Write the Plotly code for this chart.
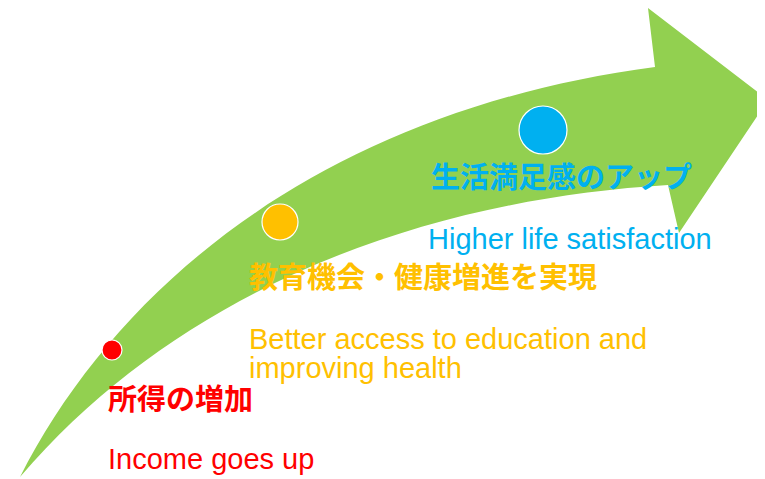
import plotly.graph_objects as go

# canvas (drawn in pixel-like units, y grows downward)
W, H = 765, 479
PAGE_OFFSET = 8  # default body margin of the html page

# arrow outline: tail point, upper edge bezier, head, lower edge bezier
arrow_tail = (20, 477)
upper_ctrl = [(120, 280), (330, 110)]
upper_end = (655, 67)
head_pts = [(648, 8), (768, 100), (679, 233)]
lower_start = (668, 185)
lower_ctrl = [(420, 200), (180, 290)]

# stage markers
dot_x = [112, 280, 543]
dot_y = [350, 222, 130]
dot_r = [10, 18, 24]
dot_colors = ["#FF0000", "#FFC000", "#00B0F0"]

# labels
jp_labels = ["所得の増加", "教育機会・健康増進を実現", "生活満足感のアップ"]
jp_x = [106, 247, 429]
jp_y = [397, 275, 175]
en_labels = ["Income goes up", "Better access to education and", "improving health",
             "Higher life satisfaction"]
en_x = [106, 247, 247, 426]
en_y = [459, 339, 368, 239]
en_colors = ["#FF0000", "#FFC000", "#FFC000", "#00B0F0"]

GREEN = "#92D050"


def pt(p):
    return f"{p[0]},{p[1]}"


path = (
    f"M {pt(arrow_tail)} C {pt(upper_ctrl[0])} {pt(upper_ctrl[1])} {pt(upper_end)} "
    + " ".join(f"L {pt(p)}" for p in head_pts)
    + f" L {pt(lower_start)} C {pt(lower_ctrl[0])} {pt(lower_ctrl[1])} {pt(arrow_tail)} Z"
)

shapes = [dict(type="path", path=path, xref="x", yref="y",
               fillcolor=GREEN, line=dict(width=0), layer="below")]
for x, y, r, c in zip(dot_x, dot_y, dot_r, dot_colors):
    shapes.append(dict(type="circle", xref="x", yref="y",
                       x0=x - r, x1=x + r, y0=y - r, y1=y + r,
                       fillcolor=c, line=dict(color="white", width=1.2)))

annotations = []
for t, x, y, c in zip(jp_labels, jp_x, jp_y, dot_colors):
    annotations.append(dict(text=f"<b>{t}</b>", x=x, y=y, xref="x", yref="y",
                            xanchor="left", yanchor="middle", showarrow=False,
                            font=dict(family="Noto Sans CJK JP", size=29, color=c)))
for t, x, y, c in zip(en_labels, en_x, en_y, en_colors):
    annotations.append(dict(text=t, x=x, y=y, xref="x", yref="y",
                            xanchor="left", yanchor="middle", showarrow=False,
                            font=dict(family="Liberation Sans, Arial", size=29, color=c)))

fig = go.Figure()
fig.update_layout(
    width=W, height=H,
    margin=dict(l=0, r=0, t=0, b=0),
    paper_bgcolor="white", plot_bgcolor="white",
    xaxis=dict(range=[PAGE_OFFSET, W + PAGE_OFFSET], visible=False, fixedrange=True),
    yaxis=dict(range=[H + PAGE_OFFSET, PAGE_OFFSET], visible=False, fixedrange=True),
    shapes=shapes,
    annotations=annotations,
    showlegend=False,
)

fig.write_html("out.html")
